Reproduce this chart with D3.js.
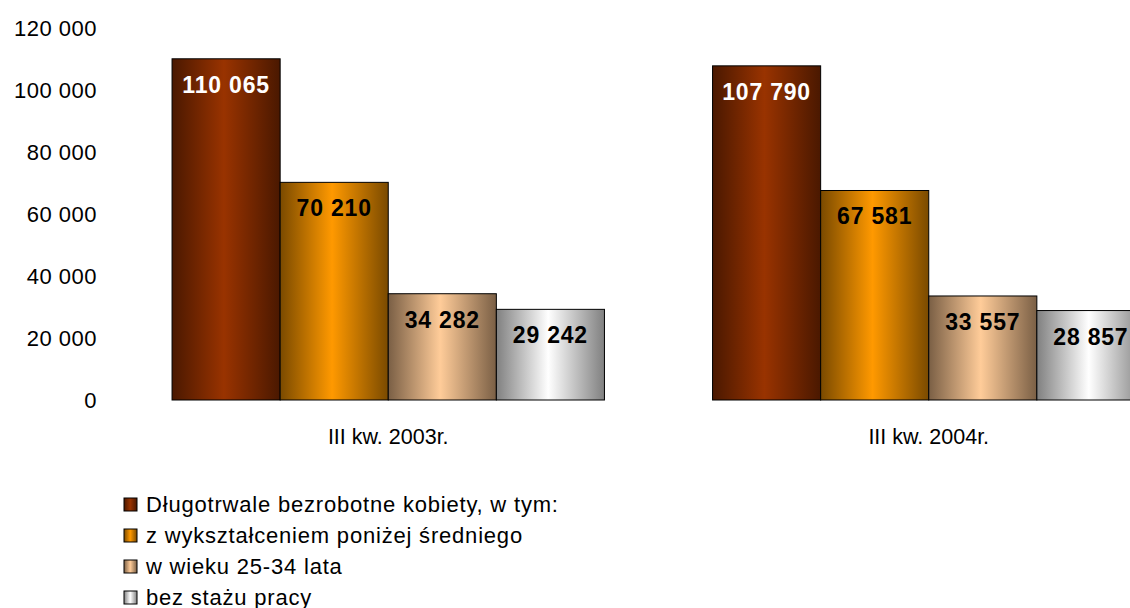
<!DOCTYPE html>
<html>
<head>
<meta charset="utf-8">
<script src="https://cdn.jsdelivr.net/npm/d3@7"></script>
<style>
  html, body { margin: 0; padding: 0; background: #fff; }
  svg { display: block; font-family: "Liberation Sans", Arial, sans-serif; }
</style>
</head>
<body>
<svg id="chart" width="1130" height="608"></svg>
<script>
const categories = ["III kw. 2003r.", "III kw. 2004r."];
const seriesNames = [
  "Długotrwale bezrobotne kobiety, w tym:",
  "z wykształceniem poniżej średniego",
  "w wieku 25-34 lata",
  "bez stażu pracy"
];
const values2003 = [110065, 70210, 34282, 29242];
const values2004 = [107790, 67581, 33557, 28857];
const yTicks = [0, 20000, 40000, 60000, 80000, 100000, 120000];

const seriesEdge = ["#4a1800", "#7a4a00", "#7a5f45", "#808080"];
const seriesMid  = ["#993300", "#ff9900", "#ffcc99", "#ffffff"];
const labelColor = ["#ffffff", "#000000", "#000000", "#000000"];

const rows = categories.map((c, i) => ({
  cat: c,
  vals: (i === 0 ? values2003 : values2004)
}));

const svg = d3.select("#chart");
const fmt = v => d3.format(",")(v).replace(/,/g, " ");

const x0 = d3.scaleBand().domain(categories).range([118, 1199])
  .paddingInner(0.2).paddingOuter(0.1);
const x1 = d3.scaleBand().domain(d3.range(seriesNames.length))
  .range([0, x0.bandwidth()]).padding(0);
const y = d3.scaleLinear().domain([0, 120000]).range([400, 28]);

// gradients
const defs = svg.append("defs");
seriesNames.forEach((s, i) => {
  const g = defs.append("linearGradient").attr("id", "g" + i)
    .attr("x1", "0%").attr("x2", "100%").attr("y1", "0%").attr("y2", "0%");
  g.append("stop").attr("offset", "0%").attr("stop-color", seriesEdge[i]);
  g.append("stop").attr("offset", "48%").attr("stop-color", seriesMid[i]);
  g.append("stop").attr("offset", "100%").attr("stop-color", seriesEdge[i]);
});

// y axis labels
const yAxis = d3.axisLeft(y).tickValues(yTicks).tickFormat(fmt).tickSize(0).tickPadding(0);
const ya = svg.append("g").attr("transform", "translate(97,0)").call(yAxis);
ya.select(".domain").remove();
ya.selectAll("text").attr("font-size", 22).attr("fill", "#000")
  .attr("font-family", "Liberation Sans, Arial, sans-serif")
  .style("letter-spacing", "0.5px");

// bars
const groups = svg.selectAll("g.cat").data(rows).join("g").attr("class", "cat")
  .attr("transform", d => `translate(${x0(d.cat)},0)`);

groups.selectAll("rect").data(d => d.vals.map((v, i) => ({ v, i })))
  .join("rect")
  .attr("x", d => x1(d.i))
  .attr("y", d => y(d.v))
  .attr("width", x1.bandwidth())
  .attr("height", d => y(0) - y(d.v))
  .attr("fill", d => `url(#g${d.i})`)
  .attr("stroke", "#000")
  .attr("stroke-width", 1);

groups.selectAll("text.val").data(d => d.vals.map((v, i) => ({ v, i })))
  .join("text").attr("class", "val")
  .attr("x", d => x1(d.i) + x1.bandwidth() / 2)
  .attr("y", d => y(d.v) + 34)
  .attr("text-anchor", "middle")
  .attr("font-size", 23)
  .attr("font-weight", "bold")
  .style("letter-spacing", "0.8px")
  .attr("fill", d => labelColor[d.i])
  .text(d => fmt(d.v));

// category axis labels
const xAxis = d3.axisBottom(x0).tickSize(0).tickPadding(0);
const xa = svg.append("g").attr("transform", "translate(0,428)").call(xAxis);
xa.select(".domain").remove();
xa.selectAll("text").attr("font-size", 21.5).attr("fill", "#000")
  .attr("font-family", "Liberation Sans, Arial, sans-serif")
  .attr("dy", "0.76em");

// legend
const leg = svg.append("g").attr("transform", "translate(124,498)");
const li = leg.selectAll("g").data(seriesNames).join("g")
  .attr("transform", (d, i) => `translate(0,${i * 31})`);
li.append("rect").attr("width", 13).attr("height", 13)
  .attr("fill", (d, i) => `url(#g${i})`)
  .attr("stroke", "#000").attr("stroke-width", 1);
li.append("text").attr("x", 22).attr("y", 13.5)
  .attr("font-size", 22).attr("fill", "#000")
  .style("letter-spacing", "0.8px")
  .text(d => d);
</script>
</body>
</html>
